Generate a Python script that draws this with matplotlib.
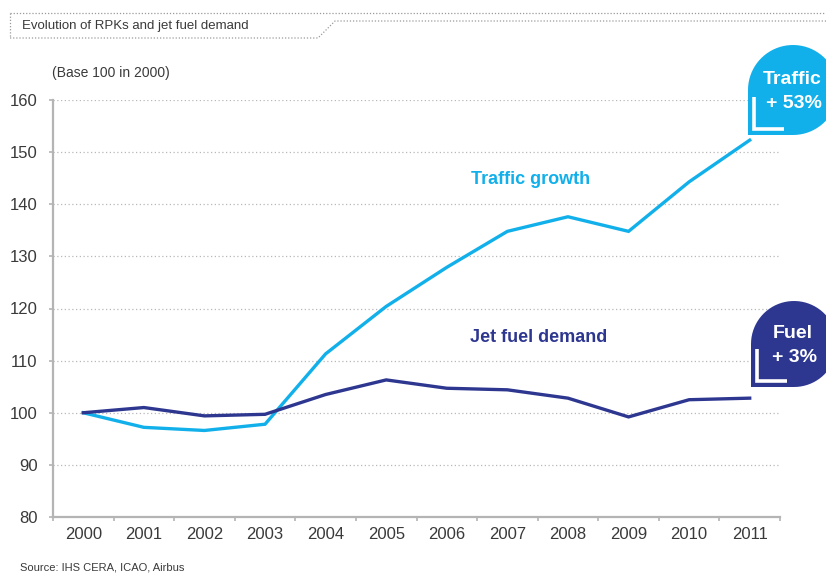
import matplotlib
matplotlib.use("Agg")
import matplotlib.pyplot as plt
import numpy as np
from matplotlib.patches import Polygon

plt.rcParams['font.family'] = ['Liberation Sans', 'DejaVu Sans']

years = ["2000", "2001", "2002", "2003", "2004", "2005",
         "2006", "2007", "2008", "2009", "2010", "2011"]
traffic = [100, 97.2, 96.6, 97.8, 111.3, 120.4, 127.9, 134.8, 137.6, 134.8, 144.3, 152.3]
fuel = [100, 101.0, 99.4, 99.7, 103.5, 106.3, 104.7, 104.4, 102.8, 99.2, 102.5, 102.8]
yticks = [80, 90, 100, 110, 120, 130, 140, 150, 160]

blue = "#12b0ea"
navy = "#2e3790"
grey_txt = "#3a3a3a"
axis_grey = "#b4b4b4"

fig = plt.figure(figsize=(8.26, 5.74), dpi=100)
ax = fig.add_axes([53 / 826, 1 - 517 / 574, (780 - 53) / 826, (517 - 100) / 574])

x = np.arange(len(years))
ax.plot(x, traffic, color=blue, lw=2.4, solid_joinstyle="miter", zorder=3)
ax.plot(x, fuel, color=navy, lw=2.4, solid_joinstyle="miter", zorder=3)

ax.set_xlim(-0.5, len(years) - 0.5)
ax.set_ylim(80, 160)
ax.set_yticks(yticks)
ax.set_xticks(x)
ax.set_xticklabels(years)
ax.set_xticks(np.arange(-0.5, len(years)), minor=True)
ax.tick_params(axis="x", which="major", length=0, pad=7.5, labelsize=12, labelcolor=grey_txt)
ax.tick_params(axis="x", which="minor", length=3, width=1.2, color=axis_grey)
ax.tick_params(axis="y", length=3, width=1.2, color=axis_grey, pad=8,
               labelsize=12, labelcolor=grey_txt)

for v in yticks[1:]:
    ax.axhline(v, color="#b8b8b8", lw=0.9, ls=(0, (1, 2)), zorder=1)

for s in ["top", "right"]:
    ax.spines[s].set_visible(False)
for s in ["left", "bottom"]:
    ax.spines[s].set_color(axis_grey)
    ax.spines[s].set_linewidth(1.6)

# overlay in pixel coordinates for annotations
ov = fig.add_axes([0, 0, 1, 1], facecolor="none")
ov.set_xlim(0, 826)
ov.set_ylim(574, 0)
ov.axis("off")

ov.text(531, 179, "Traffic growth", color=blue, fontsize=13, fontweight="bold",
        ha="center", va="center")
ov.text(539, 338, "Jet fuel demand", color=navy, fontsize=13, fontweight="bold",
        ha="center", va="center")
ov.text(52, 73, "(Base 100 in 2000)", color=grey_txt, fontsize=10, ha="left", va="center")
ov.text(20, 567, "Source: IHS CERA, ICAO, Airbus", color=grey_txt, fontsize=8,
        ha="left", va="center")

# title box
dot = dict(color="#9a9a9a", lw=0.9, ls=(0, (1, 1.5)))
ov.plot([10, 826], [13, 13], **dot)
ov.plot([10, 10], [13, 38], **dot)
ov.plot([10, 318, 335, 826], [38, 38, 21, 21], **dot)
ov.text(22, 26, "Evolution of RPKs and jet fuel demand", color=grey_txt, fontsize=9.5,
        ha="left", va="center")


def badge(cx, cy, r, color, line1, line2):
    t = np.linspace(np.pi, 2.5 * np.pi, 60)
    pts = np.column_stack([cx + r * np.cos(t), cy + r * np.sin(t)])
    pts = np.vstack([pts, [cx - r, cy + r]])
    ov.add_patch(Polygon(pts, closed=True, facecolor=color, edgecolor="none", zorder=5))
    lx, ly = cx - r + 6, cy + r - 6
    ov.plot([lx, lx, lx + 30], [ly - 32, ly, ly], color="white", lw=2.6,
            solid_joinstyle="miter", solid_capstyle="butt", zorder=6)
    ov.text(cx - 1, cy - 11, line1, color="white", fontsize=14, fontweight="bold",
            ha="center", va="center", zorder=7)
    ov.text(cx + 1, cy + 14, line2, color="white", fontsize=14, fontweight="bold",
            ha="center", va="center", zorder=7)


badge(793, 90, 45, blue, "Traffic", "+ 53%")
badge(794, 344, 43, navy, "Fuel", "+ 3%")

fig.savefig("out.png", dpi=100)
